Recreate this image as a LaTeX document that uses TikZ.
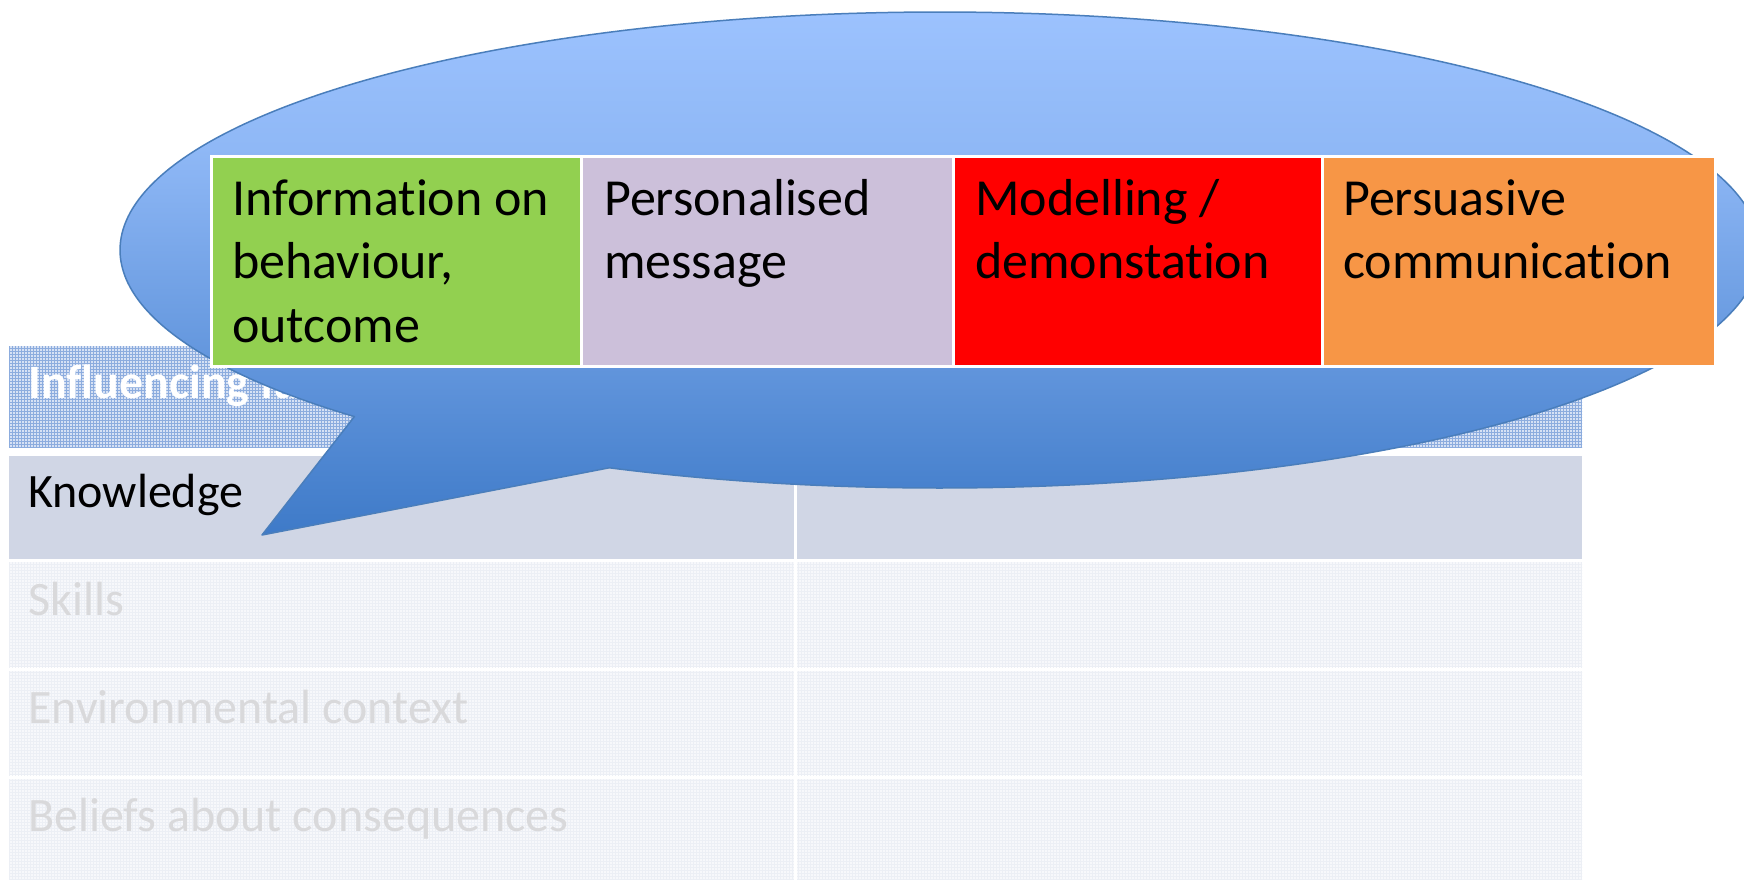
\documentclass[tikz,border=0pt]{standalone}
\usepackage{fontspec}
\setmainfont{Carlito}[Ligatures=NoCommon, Contextuals=NoAlternate]
\usetikzlibrary{patterns}
\newcommand{\nolig}{\kern0pt }
\definecolor{ctop}{RGB}{156,194,254}
\definecolor{cmid}{RGB}{143,184,246}
\definecolor{cbot}{RGB}{62,122,200}
\definecolor{cedge}{RGB}{74,126,187}
\definecolor{cgreen}{RGB}{146,208,80}
\definecolor{cpurple}{RGB}{204,192,218}
\definecolor{cred}{RGB}{255,0,0}
\definecolor{corange}{RGB}{247,150,70}
\definecolor{cknow}{RGB}{208,214,229}
\definecolor{chdr}{RGB}{214,225,244}
\definecolor{chdrl}{RGB}{140,172,222}
\definecolor{clight}{RGB}{247,248,251}
\definecolor{clightl}{RGB}{236,239,245}
\definecolor{cfaint}{RGB}{217,217,219}
\pgfdeclareverticalshading{calloutshade}{100bp}{color(0bp)=(cbot); color(25bp)=(cbot); color(62bp)=(cmid); color(75bp)=(ctop); color(100bp)=(ctop)}
\begin{document}
\begin{tikzpicture}[x=1pt,y=-1pt,
  rowbox/.style={anchor=north west, inner sep=0, outer sep=0, minimum width=1573pt},
  hdrrow/.style={rowbox, preaction={fill=chdr}, pattern=grid, pattern color=chdrl},
  lightrow/.style={rowbox, preaction={fill=clight}, pattern=grid, pattern color=clightl},
  knowrow/.style={rowbox, fill=cknow},
  tabtext/.style={anchor=base west, inner sep=0, font=\fontsize{48}{57}\selectfont},
  ibox/.style={anchor=north west, draw=white, line width=3pt, minimum height=210pt, inner sep=0, outer sep=0},
  boxtext/.style={anchor=north west, inner sep=0, align=left, text=black, font=\fontsize{52}{63.5}\selectfont},
  callout/.style={shading=calloutshade, draw=cedge, line width=1.5pt, line join=round}
]
\clip (0,0) rectangle (1744,879);
\fill[white] (0,0) rectangle (1744,879);

% table rows
\node[hdrrow, minimum height=101pt] (hdr) at (9,346) {};
\node[knowrow, minimum height=103pt] (know) at (9,456) {};
\node[lightrow, minimum height=105pt] (skl) at (9,562) {};
\node[lightrow, minimum height=104pt] (env) at (9,671) {};
\node[lightrow, minimum height=110pt] (bel) at (9,779) {};
\draw[white, line width=3.5pt] (know.north) -- (bel.south);

% table texts
\node[tabtext, text=white, font=\fontsize{48}{57}\selectfont\bfseries] (thdr) at (28,398) {Influencing factors};
\node[tabtext, text=black] (tknow) at (28,507) {Knowledge};
\node[tabtext, text=cfaint] (tskl) at (28,615) {Skills};
\node[tabtext, text=cfaint] (tenv) at (28,723) {Environmental context};
\node[tabtext, text=cfaint] (tbel) at (28,831) {Beliefs about consequences};

% callout
\coordinate (A) at (354.4,416.6);
\coordinate (T) at (262,535);
\coordinate (B) at (609.2,467.8);
\shadedraw[callout] (A) -- (T) -- (B) -- plot[domain=113.8:-224.4, samples=400] ({940+820*cos(\x)},{250+238*sin(\x)}) -- cycle;

% coloured boxes
\node[ibox, fill=cgreen, minimum width=370pt] (b1) at (211,156) {};
\node[ibox, fill=cpurple, minimum width=372pt] (b2) at (581,156) {};
\node[ibox, fill=cred, minimum width=369pt] (b3) at (953,156) {};
\node[ibox, fill=corange, minimum width=393pt] (b4) at (1322,156) {};

\node[boxtext] (l1) at (232,170.5) {\strut Informat\nolig ion on\\behaviour,\\outcome};
\node[boxtext] (l2) at (604,170.5) {\strut Personalised\\message};
\node[boxtext] (l3) at (975,170.5) {\strut Modelling /\\demonstat\nolig ion};
\node[boxtext] (l4) at (1343,170.5) {\strut Persuasive\\communicat\nolig ion};
\end{tikzpicture}
\end{document}
